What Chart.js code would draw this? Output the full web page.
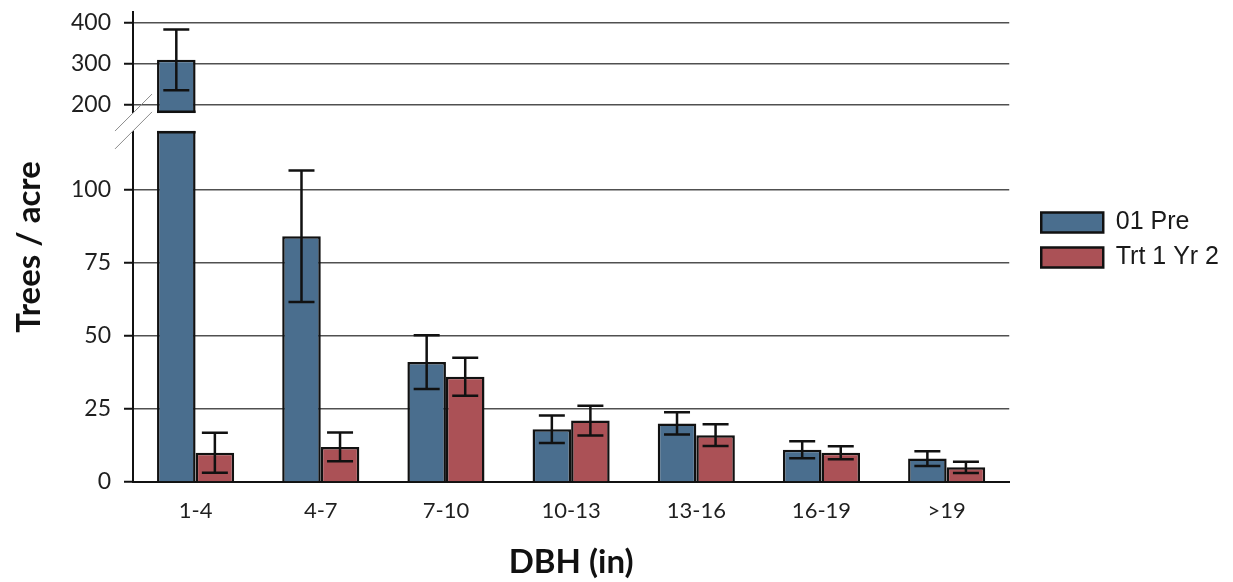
<!DOCTYPE html>
<html>
<head>
<meta charset="utf-8">
<title>Trees per acre by DBH class</title>
<script src="https://cdn.jsdelivr.net/npm/chart.js@4.4.1/dist/chart.umd.min.js"></script>
<style>
  html, body { margin: 0; padding: 0; background: #ffffff; }
  #wrap { width: 1233px; height: 582px; position: relative; }
</style>
</head>
<body>
<div id="wrap"><canvas id="chart"></canvas></div>
<script>
// DBH classes (inches)
const categories = ['1-4', '4-7', '7-10', '10-13', '13-16', '16-19', '>19'];

// Mean trees per acre and standard error, pre-treatment
const preLabel = '01 Pre';
const preValues = [310, 84, 41, 18, 20, 11, 8];
const preErrors = [74, 22.5, 9.2, 4.7, 3.8, 2.9, 2.5];

// Mean trees per acre and standard error, treatment 1 year 2
const trtLabel = 'Trt 1 Yr 2';
const trtValues = [10, 12, 36, 21, 16, 10, 5];
const trtErrors = [6.8, 4.9, 6.5, 5.1, 3.7, 2.2, 1.9];

// Labelled values on the value axis
const yTicks = [0, 25, 50, 75, 100, 200, 300, 400];

// Broken value axis: 0..120 on the lower part, 180..AXIS_MAX compressed on top
const AXIS_MAX = 427;
const BREAK_FROM = 120;
const BREAK_TO = 180;
const LOWER_SHARE = 0.747;
const GAP_SHARE = 0.038;

function valueToDecimal(v) {
  if (v <= BREAK_FROM) return (v / BREAK_FROM) * LOWER_SHARE;
  if (v < BREAK_TO) return LOWER_SHARE + ((v - BREAK_FROM) / (BREAK_TO - BREAK_FROM)) * GAP_SHARE;
  return LOWER_SHARE + GAP_SHARE +
    ((v - BREAK_TO) / (AXIS_MAX - BREAK_TO)) * (1 - LOWER_SHARE - GAP_SHARE);
}
function decimalToValue(d) {
  if (d <= LOWER_SHARE) return (d / LOWER_SHARE) * BREAK_FROM;
  if (d < LOWER_SHARE + GAP_SHARE) return BREAK_FROM + ((d - LOWER_SHARE) / GAP_SHARE) * (BREAK_TO - BREAK_FROM);
  return BREAK_TO + ((d - LOWER_SHARE - GAP_SHARE) / (1 - LOWER_SHARE - GAP_SHARE)) * (AXIS_MAX - BREAK_TO);
}

class BrokenLinearScale extends Chart.LinearScale {
  static id = 'brokenLinear';
  static defaults = Chart.LinearScale.defaults;
  getPixelForValue(value) {
    if (value === null || value === undefined || isNaN(value)) return NaN;
    return this.getPixelForDecimal(valueToDecimal(value));
  }
  getValueForPixel(pixel) {
    return decimalToValue(this.getDecimalForPixel(pixel));
  }
}
Chart.register(BrokenLinearScale);

Chart.defaults.font.family = 'Lato, "Open Sans", sans-serif';
Chart.defaults.color = '#1f1f1f';

const BLUE = '#4a6e8e';
const RED = '#ab5156';
const INK = '#111111';

// Clears the axis gap, closes the split bar and adds the break marks
const axisBreakPlugin = {
  id: 'axisBreak',
  afterDatasetsDraw(chart) {
    const y = chart.scales.y;
    const area = chart.chartArea;
    const ctx = chart.ctx;
    const gapTop = y.getPixelForValue(BREAK_TO);
    const gapBottom = y.getPixelForValue(BREAK_FROM);
    ctx.save();
    ctx.fillStyle = '#ffffff';
    ctx.fillRect(area.left - 3, gapTop, area.right - area.left + 3, gapBottom - gapTop);

    ctx.strokeStyle = INK;
    ctx.lineWidth = 2.5;
    chart.data.datasets.forEach((ds, di) => {
      const meta = chart.getDatasetMeta(di);
      meta.data.forEach((bar, i) => {
        if (ds.data[i] > BREAK_FROM) {
          const l = bar.x - bar.width / 2;
          const r = bar.x + bar.width / 2;
          ctx.beginPath();
          ctx.moveTo(l, gapTop - 1.25);
          ctx.lineTo(r, gapTop - 1.25);
          ctx.moveTo(l, gapBottom + 1.25);
          ctx.lineTo(r, gapBottom + 1.25);
          ctx.stroke();
        }
      });
    });

    ctx.strokeStyle = '#8c8c8c';
    ctx.lineWidth = 1;
    [gapTop, gapBottom].forEach(edge => {
      ctx.beginPath();
      ctx.moveTo(area.left - 18, edge + 18);
      ctx.lineTo(area.left + 19, edge - 19);
      ctx.stroke();
    });
    ctx.restore();
  }
};

// Standard-error whiskers on every bar
const errorBarPlugin = {
  id: 'errorBars',
  afterDatasetsDraw(chart) {
    const y = chart.scales.y;
    const ctx = chart.ctx;
    ctx.save();
    ctx.strokeStyle = INK;
    ctx.lineWidth = 2.5;
    chart.data.datasets.forEach((ds, di) => {
      const meta = chart.getDatasetMeta(di);
      meta.data.forEach((bar, i) => {
        const v = ds.data[i];
        const e = ds.errors[i];
        const top = y.getPixelForValue(v + e);
        const bottom = y.getPixelForValue(v - e);
        const cap = 13;
        ctx.beginPath();
        ctx.moveTo(bar.x, top);
        ctx.lineTo(bar.x, bottom);
        ctx.moveTo(bar.x - cap, top);
        ctx.lineTo(bar.x + cap, top);
        ctx.moveTo(bar.x - cap, bottom);
        ctx.lineTo(bar.x + cap, bottom);
        ctx.stroke();
      });
    });
    ctx.restore();
  }
};

// Lifts the legend block a little above the plot's vertical centre
const legendOffsetPlugin = {
  id: 'legendOffset',
  afterLayout(chart) {
    if (chart.legend) {
      chart.legend.top -= 7;
      chart.legend.bottom -= 7;
    }
  }
};

new Chart(document.getElementById('chart'), {
  type: 'bar',
  data: {
    labels: categories,
    datasets: [
      {
        label: preLabel,
        data: preValues,
        errors: preErrors,
        backgroundColor: BLUE,
        borderColor: INK,
        borderWidth: 2.5,
        categoryPercentage: 0.616,
        barPercentage: 1
      },
      {
        label: trtLabel,
        data: trtValues,
        errors: trtErrors,
        backgroundColor: RED,
        borderColor: INK,
        borderWidth: 2.5,
        categoryPercentage: 0.616,
        barPercentage: 1
      }
    ]
  },
  options: {
    responsive: true,
    maintainAspectRatio: false,
    animation: false,
    layout: { padding: { top: 12, right: 4, bottom: 0, left: 0 } },
    plugins: {
      tooltip: { enabled: false },
      legend: {
        position: 'right',
        fullSize: false,
        labels: {
          boxWidth: 62,
          boxHeight: 20,
          padding: 10,
          color: '#1a1a1a',
          font: { family: '"Liberation Sans", Arial, sans-serif', size: 25 }
        }
      }
    },
    scales: {
      x: {
        grid: { display: false, drawTicks: false },
        border: { display: true, color: INK, width: 2 },
        ticks: { padding: 16, font: { size: 22 }, color: '#1f1f1f' },
        title: {
          display: true,
          text: 'DBH (in)',
          font: { size: 33, weight: 'bold' },
          color: INK,
          padding: { top: 0, bottom: 0 }
        },
        afterFit(scale) { scale.height = 100; }
      },
      y: {
        type: 'brokenLinear',
        min: 0,
        max: AXIS_MAX,
        bounds: 'data',
        afterBuildTicks(scale) {
          scale.ticks = yTicks.map(v => ({ value: v }));
        },
        grid: {
          color: ctx => (ctx.tick && ctx.tick.value === 0 ? INK : '#505050'),
          lineWidth: 1.5,
          tickLength: 9,
          tickColor: INK,
          tickWidth: 2
        },
        border: { display: true, color: INK, width: 2 },
        ticks: {
          padding: 13,
          font: { size: 23 },
          color: '#1f1f1f',
          callback: v => String(v)
        },
        title: {
          display: true,
          text: 'Trees / acre',
          font: { size: 33, weight: 'bold' },
          color: INK,
          padding: { top: 10, bottom: 0 }
        },
        afterFit(scale) {
          scale.width = 133;
          scale.paddingTop = 0;
          scale.paddingBottom = 0;
        }
      },
      yRight: {
        type: 'linear',
        position: 'right',
        display: true,
        grid: { display: false, drawTicks: false },
        border: { display: false },
        ticks: { display: false },
        afterFit(scale) {
          scale.width = 22;
          scale.paddingTop = 0;
          scale.paddingBottom = 0;
        }
      }
    }
  },
  plugins: [axisBreakPlugin, errorBarPlugin, legendOffsetPlugin]
});
</script>
</body>
</html>
